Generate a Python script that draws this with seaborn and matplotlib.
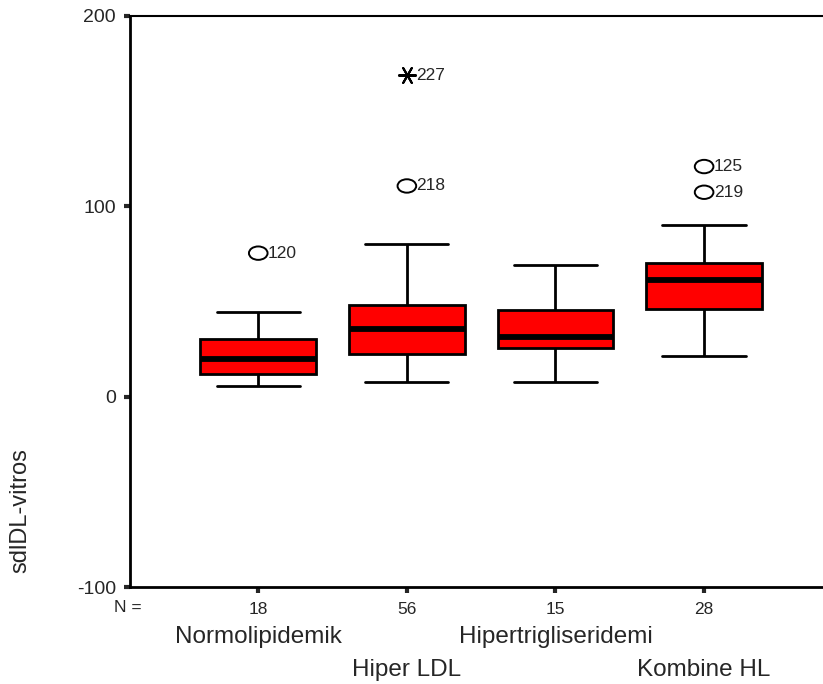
import numpy as np
import pandas as pd
import seaborn as sns
import matplotlib
matplotlib.use("Agg")
import matplotlib.pyplot as plt
from matplotlib.path import Path
from matplotlib.transforms import Affine2D, blended_transform_factory

# ---- data ----
groups = ["Normolipidemik", "Hiper LDL", "Hipertrigliseridemi", "Kombine HL"]
counts = [18, 56, 15, 28]
whisker_low = [5.8, 7.6, 7.6, 21.5]
q1 = [11.8, 22.4, 25.4, 46.2]
median = [19.8, 35.6, 31.5, 61.5]
q3 = [30.5, 48.3, 45.4, 70.4]
whisker_high = [44.7, 80.2, 69.4, 90.4]

outlier_group = ["Normolipidemik", "Hiper LDL", "Hiper LDL", "Kombine HL", "Kombine HL"]
outlier_value = [75.4, 110.7, 169.0, 120.9, 107.4]
outlier_case = ["120", "218", "227", "125", "219"]
outlier_extreme = [False, False, True, False, False]

yticks = [-100, 0, 100, 200]
y_label = "sdlDL-vitros"

# ---- build long table (five-number summary per group) ----
rows = []
for g, a, b, c, d, e in zip(groups, whisker_low, q1, median, q3, whisker_high):
    for v in (a, b, c, d, e):
        rows.append({"group": g, "value": v})
df = pd.DataFrame(rows)

sns.set_style("white")
plt.rcParams["font.family"] = ["Liberation Sans", "DejaVu Sans"]

W, H = 823, 684
fig = plt.figure(figsize=(W / 100, H / 100), dpi=100)
ax = fig.add_axes([130 / W, 1 - 587 / H, (W - 130) / W, (587 - 16) / H])

sns.boxplot(
    data=df, x="group", y="value", order=groups, ax=ax,
    whis=(0, 100), width=0.78, color="#ff0000", saturation=1,
    linecolor="black", linewidth=2.0, showfliers=False,
    medianprops=dict(color="black", linewidth=4.2),
    capwidths=0.56,
)

# outliers
ellipse = Path.unit_circle().transformed(Affine2D().scale(1.0, 0.72))
pos = [groups.index(g) for g in outlier_group]
for x, v, lab, ext in zip(pos, outlier_value, outlier_case, outlier_extreme):
    if ext:
        ax.scatter([x], [v], marker=(6, 2, 90), s=150, color="black",
                   linewidths=1.5, zorder=5)
    else:
        ax.scatter([x], [v], marker=ellipse, s=180, facecolors="none",
                   edgecolors="black", linewidths=1.4, zorder=5)
    ax.annotate(lab, (x, v), xytext=(7, 0), textcoords="offset points",
                ha="left", va="center", fontsize=12.5)

ax.set_xlim(-0.863, 3.80)
ax.set_ylim(-100, 200)
ax.set_yticks(yticks)
ax.set_yticklabels([str(t) for t in yticks], fontsize=14)
ax.set_xticks(range(len(groups)))
ax.set_xticklabels([str(c) for c in counts], fontsize=12.5)
ax.set_xlabel("")
ax.set_ylabel("")

for s in ["left", "bottom"]:
    ax.spines[s].set_linewidth(2.0)
    ax.spines[s].set_color("black")
ax.spines["top"].set_linewidth(1.5)
ax.spines["top"].set_color("black")
ax.spines["right"].set_visible(False)

ax.tick_params(axis="y", direction="out", length=4, width=3, pad=6, left=True)
ax.tick_params(axis="x", direction="out", length=4, width=3, pad=7, bottom=True)

# "N =" label and staggered category names
fig.text(128 / W, 1 - 607 / H, "N =", ha="center", va="center", fontsize=12.5)
tr = blended_transform_factory(ax.transData, fig.transFigure)
row_y = [1 - 637 / H, 1 - 670 / H]
for i, g in enumerate(groups):
    ax.text(i, row_y[i % 2], g, transform=tr, ha="center", va="center",
            fontsize=17.5, clip_on=False)

fig.text(20 / W, 1 - 511 / H, y_label, rotation=90, ha="center", va="center",
         fontsize=17)

fig.savefig("out.png", dpi=100, facecolor="white")
